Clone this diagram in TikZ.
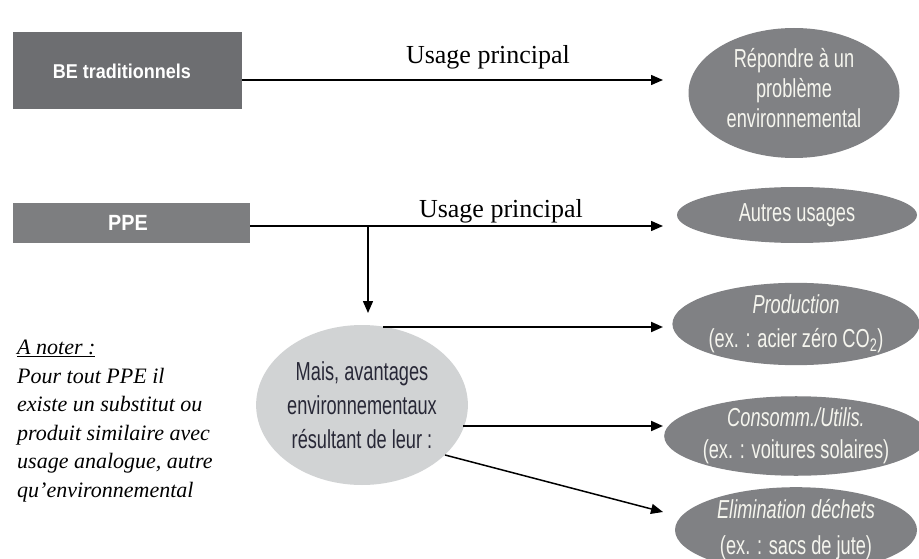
\documentclass[tikz,border=0pt]{standalone}
\usepackage{fontspec}
\setmainfont{Liberation Serif}
\newfontfamily\condf[FakeStretch=0.7]{Liberation Sans}
\newfontfamily\boxf[FakeStretch=0.9]{Liberation Sans}
\usetikzlibrary{shapes.geometric,arrows.meta,calc}
\definecolor{boxdark}{RGB}{109,110,113}
\definecolor{boxlight}{RGB}{125,126,128}
\definecolor{elldark}{RGB}{128,129,132}
\definecolor{elllight}{RGB}{209,211,212}
\definecolor{txtlight}{RGB}{245,245,238}
\definecolor{txtdark}{RGB}{40,40,55}
\begin{document}
\begin{tikzpicture}[x=1pt,y=-1pt,
  greybox/.style={draw=none,inner sep=0pt,text=white,font=\boxf\bfseries},
  darkell/.style={ellipse,fill=elldark,draw=none,inner sep=0pt,text=txtlight,align=center,
     font=\condf\fontsize{26}{30}\selectfont},
  lightell/.style={ellipse,fill=elllight,draw=none,inner sep=0pt,text=txtdark,align=center,
     font=\condf\fontsize{26}{34}\selectfont},
  arr/.style={line width=1.5pt,-{Triangle[length=12pt,width=10pt]}},
  arrthick/.style={arr,line width=2pt},
  usage/.style={font=\fontsize{26}{30}\selectfont,inner sep=0pt,anchor=base}
]
\useasboundingbox (0,0) rectangle (919,559);
\fill[white] (0,0) rectangle (919,559);

% boxes
\node[greybox,fill=boxdark,minimum width=229pt,minimum height=77pt,anchor=north west] (be) at (13,32) {};
\node[text=white,font=\boxf\bfseries\fontsize{20}{22}\selectfont] (betxt) at (122,71) {BE traditionnels};
\node[greybox,fill=boxlight,minimum width=237pt,minimum height=40pt,anchor=north west] (ppe) at (13,203) {};
\node[text=white,font=\boxf\bfseries\fontsize{22}{24}\selectfont] (ppetxt) at (128,223) {PPE};

% ellipses
\node[darkell,minimum width=211pt,minimum height=130pt] (e1) at (794,93) {};
\node[text=txtlight,align=center,inner sep=0pt,font=\condf\fontsize{26}{30}\selectfont] (e1txt) at (794,88)
  {Répondre à un\\problème\\environnemental};
\node[darkell,minimum width=240pt,minimum height=56pt] (e2) at (797,215) {Autres usages};
\node[darkell,minimum width=242pt,minimum height=76pt,font=\condf\fontsize{26}{34}\selectfont] (e3) at (796,324)
  {\itshape Production\\(ex. : acier zéro CO\textsubscript{2})};
\node[darkell,minimum width=242pt,minimum height=68pt,font=\condf\fontsize{26}{32}\selectfont] (e4) at (796,436)
  {\itshape Consomm./Utilis.\\(ex. : voitures solaires)};
\node[darkell,minimum width=242pt,minimum height=80pt,font=\condf\fontsize{26}{36}\selectfont] (e5) at (796,530)
  {\itshape Elimination déchets\\(ex. : sacs de jute)};
\node[lightell,minimum width=210pt,minimum height=160pt] (mais) at (362,405)
  {Mais, avantages\\environnementaux\\résultant de leur :};

% coordinates
\coordinate (a1s) at (242,80);
\coordinate (a1e) at (663,80);
\coordinate (a2s) at (250,226);
\coordinate (a2e) at (663,226);
\coordinate (a3s) at (368,226);
\coordinate (a3e) at (368,313);
\coordinate (a4s) at (383,327);
\coordinate (a4e) at (663,327);
\coordinate (a5s) at (463,426);
\coordinate (a5e) at (663,426);
\coordinate (a6s) at (445,455);
\coordinate (a6e) at (663,512);

\draw[arr] (a1s) -- (a1e);
\draw[arr] (a2s) -- (a2e);
\draw[arr] (a3s) -- (a3e);
\draw[arrthick] (a4s) -- (a4e);
\draw[arrthick] (a5s) -- (a5e);
\draw[arr] (a6s) -- (a6e);

\node[usage] (u1) at (488,64) {Usage principal};
\node[usage] (u2) at (501,218) {Usage principal};

% note
\node[anchor=north west,inner sep=0pt,align=left,
  font=\itshape\fontsize{22}{28.5}\selectfont] (note) at (17,340)
  {\underline{A noter :}\\Pour tout PPE il\\existe un substitut ou\\produit similaire avec\\usage analogue, autre\\qu'environnemental};
\end{tikzpicture}
\end{document}
